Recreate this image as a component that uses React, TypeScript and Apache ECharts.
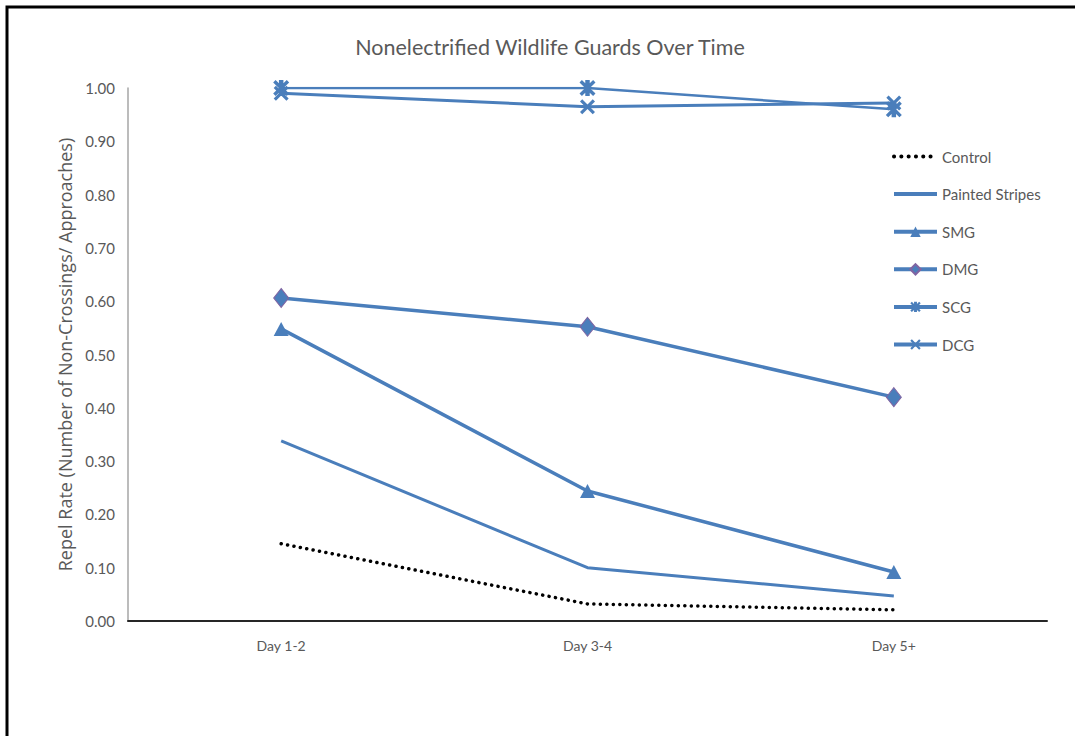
import React, { useEffect, useRef } from "react";
import * as echarts from "echarts";

const categories = ["Day 1-2", "Day 3-4", "Day 5+"];
const control = [0.145, 0.032, 0.021];
const paintedStripes = [0.338, 0.1, 0.047];
const smg = [0.548, 0.244, 0.092];
const dmg = [0.606, 0.552, 0.42];
const scg = [1.0, 1.0, 0.96];
const dcg = [0.99, 0.965, 0.972];
const yTicks = [0, 0.1, 0.2, 0.3, 0.4, 0.5, 0.6, 0.7, 0.8, 0.9, 1.0];

const BLUE = "#4a7ebb";
const FONT = "Lato, 'Open Sans', sans-serif";
const GRAY = "#595959";

const xPath = "path://M0,1.5 L1.5,0 L5,3.5 L8.5,0 L10,1.5 L6.5,5 L10,8.5 L8.5,10 L5,6.5 L1.5,10 L0,8.5 L3.5,5 Z";
const starPath =
  "path://M0,1.5 L1.5,0 L3.6,2.1 L3.6,0 L6.4,0 L6.4,2.1 L8.5,0 L10,1.5 L6.5,5 L10,8.5 L8.5,10 L6.4,7.9 L6.4,10 L3.6,10 L3.6,7.9 L1.5,10 L0,8.5 L3.5,5 Z";

export default function App() {
  const ref = useRef<HTMLDivElement>(null);
  useEffect(() => {
    if (!ref.current) return;
    const chart = echarts.init(ref.current, undefined, { renderer: "svg" });
    const blueLegendLine = { width: 4, color: BLUE };
    chart.setOption({
      animation: false,
      backgroundColor: "#ffffff",
      textStyle: { fontFamily: FONT },
      title: {
        text: "Nonelectrified Wildlife Guards Over Time",
        left: 545,
        textAlign: "center",
        top: 31,
        textStyle: { fontFamily: FONT, fontSize: 21.5, fontWeight: "normal", color: GRAY },
      },
      graphic: [
        {
          type: "rect",
          shape: { x: 7, y: 7, width: 1200, height: 900 },
          style: { fill: "none", stroke: "#000", lineWidth: 3 },
          silent: true,
          z: 100,
        },
      ],
      legend: {
        orient: "vertical",
        left: 887,
        top: 144,
        itemWidth: 43,
        itemHeight: 13,
        itemGap: 22.6,
        textStyle: { fontFamily: FONT, fontSize: 15, color: GRAY },
        data: [
          {
            name: "Control",
            itemStyle: { opacity: 0 },
            lineStyle: { width: 4, color: "#000", type: [0.1, 7.2], cap: "round" },
          },
          { name: "Painted Stripes", itemStyle: { opacity: 0 }, lineStyle: blueLegendLine },
          { name: "SMG", lineStyle: blueLegendLine },
          { name: "DMG", lineStyle: blueLegendLine },
          { name: "SCG", lineStyle: blueLegendLine },
          { name: "DCG", lineStyle: blueLegendLine },
        ],
      },
      grid: { left: 128, right: 28, top: 88, bottom: 115, containLabel: false },
      xAxis: {
        type: "category",
        data: categories,
        boundaryGap: true,
        axisLine: { show: true, onZero: false, lineStyle: { color: "#262626", width: 2 } },
        axisTick: { show: false },
        splitLine: { show: false },
        axisLabel: {
          fontFamily: FONT,
          fontSize: 14,
          color: GRAY,
          margin: 17,
        },
      },
      yAxis: {
        type: "value",
        min: 0,
        max: 1,
        interval: 0.1,
        name: "Repel Rate (Number of Non-Crossings/ Approaches)",
        nameLocation: "middle",
        nameGap: 41,
        nameTextStyle: { fontFamily: "'Open Sans', sans-serif", fontSize: 18, color: GRAY },
        axisLine: { show: true, onZero: false, lineStyle: { color: "#a6a6a6", width: 1.5 } },
        axisTick: { show: false },
        splitLine: { show: false },
        axisLabel: {
          fontFamily: FONT,
          fontSize: 15,
          color: GRAY,
          margin: 13,
          formatter: (v: number) => {
            const t = yTicks.find((x) => Math.abs(x - v) < 1e-6);
            return (t ?? v).toFixed(2);
          },
        },
      },
      series: [
        {
          name: "Control",
          type: "line",
          data: control,
          symbol: "none",
          itemStyle: { color: "#000" },
          lineStyle: { color: "#000", width: 3.5, type: [0.1, 6.4], cap: "round" },
          z: 3,
        },
        {
          name: "Painted Stripes",
          type: "line",
          data: paintedStripes,
          symbol: "none",
          itemStyle: { color: BLUE },
          lineStyle: { color: BLUE, width: 3 },
        },
        {
          name: "SMG",
          type: "line",
          data: smg,
          symbol: "triangle",
          symbolSize: [15, 14],
          itemStyle: { color: BLUE },
          lineStyle: { color: BLUE, width: 3.5 },
        },
        {
          name: "DMG",
          type: "line",
          data: dmg,
          symbol: "diamond",
          symbolSize: [15, 19],
          itemStyle: { color: BLUE, borderColor: "#8064a2", borderWidth: 1 },
          lineStyle: { color: BLUE, width: 3.5 },
        },
        {
          name: "SCG",
          type: "line",
          data: scg,
          symbol: starPath,
          symbolSize: 16,
          itemStyle: { color: BLUE },
          lineStyle: { color: BLUE, width: 2.5 },
        },
        {
          name: "DCG",
          type: "line",
          data: dcg,
          symbol: xPath,
          symbolSize: 15,
          itemStyle: { color: BLUE },
          lineStyle: { color: BLUE, width: 3 },
        },
      ],
    });
    return () => chart.dispose();
  }, []);
  return (
    <div
      ref={ref}
      style={{ position: "absolute", left: 0, top: 0, width: 1075, height: 736 }}
    />
  );
}
